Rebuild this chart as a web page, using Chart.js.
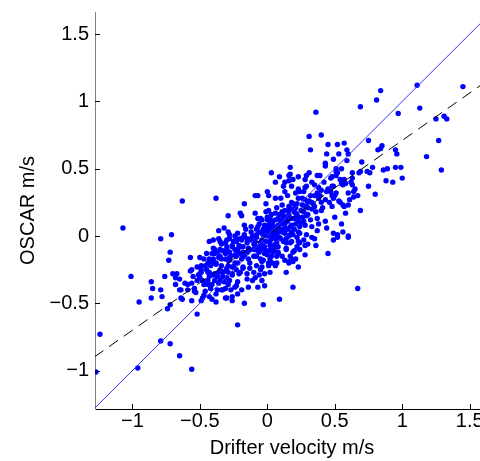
<!DOCTYPE html>
<html>
<head>
<meta charset="utf-8">
<script src="https://cdn.jsdelivr.net/npm/chart.js@4/dist/chart.umd.min.js"></script>
<style>
html, body { margin: 0; padding: 0; background: #fff; overflow: hidden; width: 480px; height: 461px; }
#wrap { width: 500px; height: 461px; }
</style>
</head>
<body>
<div id="wrap"><canvas id="grafico" width="500" height="461"></canvas></div>
<script>
// drifter velocity (x) vs OSCAR velocity (y), m/s
const farPoints = [
  [-1.27,-1.01],[-1.24,-0.73],[-1.07,0.06],[-0.96,-0.98],[-0.79,-0.78],[-0.72,-0.80],[-0.65,-0.89],[-0.56,-0.99],[-1.01,-0.30],[-0.95,-0.49],
  [-0.86,-0.34],[-0.85,-0.39],[-0.86,-0.46],[-0.79,-0.40],[-0.78,-0.45],[-0.76,-0.30],[-0.79,-0.02],[-0.71,0.01],[-0.72,-0.12],[-0.73,-0.18],
  [-0.74,-0.54],[-0.72,-0.51],[-0.52,-0.58],[-0.57,-0.16],[-0.63,0.26],[-0.38,0.28],[-0.22,-0.66],[0.67,-0.39],[0.09,-0.47],[0.19,-0.38],
  [0.14,-0.27],[-0.03,-0.51],[-0.17,-0.50]
];
const lowerCluster = [
  [-0.70,-0.28],[-0.67,-0.28],[-0.68,-0.31],[-0.65,-0.32],[-0.68,-0.36],[-0.65,-0.40],[-0.63,-0.47],
  [-0.59,-0.40],[-0.56,-0.48],[-0.56,-0.35],[-0.57,-0.26],[-0.52,-0.33],[-0.54,-0.41],[-0.51,-0.29],[-0.49,-0.27],[-0.46,-0.41],[-0.47,-0.44],
  [-0.48,-0.46],[-0.44,-0.36],[-0.41,-0.36],[-0.39,-0.33],[-0.43,-0.30],[-0.40,-0.29],[-0.41,-0.47],[-0.38,-0.49],[-0.37,-0.40],[-0.38,-0.43],
  [-0.34,-0.40],[-0.30,-0.46],[-0.31,-0.39],[-0.26,-0.45],[-0.29,-0.36],[-0.28,-0.33],[-0.30,-0.31],[-0.33,-0.27],[-0.29,-0.27],[-0.26,-0.29],
  [-0.44,-0.27],[-0.61,-0.35],[-0.53,-0.42],[-0.43,-0.45],[-0.24,-0.38],[-0.46,-0.35],[-0.37,-0.30],[-0.35,-0.33],[-0.50,-0.28],[-0.46,-0.22],
  [-0.43,-0.27],[-0.50,-0.16],[-0.45,-0.13],[-0.47,-0.17],[-0.43,-0.04],[-0.40,-0.03],[-0.36,0.04],[-0.32,0.06],[-0.36,-0.02],[-0.34,-0.06],
  [-0.30,-0.08],[-0.26,-0.08],[-0.23,-0.02],[-0.28,0.01],[-0.25,-0.04],[-0.39,-0.13],[-0.36,-0.16],[-0.31,-0.13],[-0.28,-0.18],[-0.24,-0.14],
  [-0.38,-0.20],[-0.34,-0.22],[-0.30,-0.24],[-0.26,-0.23],[-0.23,-0.25],[-0.40,-0.20],[-0.43,-0.20],[-0.29,0.15],[-0.20,0.17],[-0.19,0.15],
  [-0.17,0.24],[-0.20,-0.02],[-0.30,-0.03],[-0.26,-0.07],[-0.24,-0.10],[-0.39,-0.10],[-0.35,-0.10],[-0.28,-0.12],[-0.22,-0.12],[-0.18,-0.08],
  [-0.43,-0.17],[-0.34,-0.17],[-0.29,-0.18],[-0.19,-0.14],[-0.42,-0.22],[-0.38,-0.21],[-0.35,-0.25],[-0.25,-0.23],[-0.22,-0.20],[-0.18,-0.24],
  [-0.49,-0.25],[-0.52,-0.23],[-0.56,-0.25],[-0.39,-0.28],[-0.33,-0.30],[-0.21,-0.28],
  [-0.55,-0.30],[-0.48,-0.33],[-0.42,-0.39],[-0.36,-0.35],[-0.32,-0.34],[-0.27,-0.40],[-0.45,-0.25],[-0.41,-0.13],[-0.33,-0.11],[-0.27,-0.15],
  [-0.21,-0.07],[-0.17,-0.15],[-0.13,-0.24],[-0.11,-0.33],[-0.06,-0.29]
];
const coreCluster = [
  [-0.01,0.24],[-0.09,0.17],[-0.07,0.13],[-0.04,0.12],
  [0.00,0.14],[0.03,0.16],[0.02,0.11],[-0.29,0.03],[-0.22,0.02],[-0.17,0.01],[-0.24,0.00],[-0.35,-0.04],[-0.31,-0.05],[-0.28,-0.02],
  [-0.23,-0.04],[-0.19,-0.03],[-0.15,-0.02],[-0.12,-0.02],[-0.08,0.01],[-0.04,0.02],[0.01,0.03],[0.04,-0.01],[-0.40,-0.09],[-0.37,-0.12],
  [-0.30,-0.10],[-0.22,-0.10],[-0.18,-0.12],[-0.14,-0.09],[-0.09,-0.08],[-0.05,-0.10],[-0.02,-0.08],[0.02,-0.07],[0.05,-0.10],[-0.40,-0.17],
  [-0.35,-0.15],[-0.31,-0.17],[-0.28,-0.16],[-0.23,-0.15],[-0.19,-0.17],[-0.14,-0.17],[-0.09,-0.15],[-0.05,-0.17],[0.00,-0.14],[0.03,-0.15],
  [-0.49,-0.22],[-0.44,-0.20],[-0.29,-0.22],[-0.24,-0.20],[-0.18,-0.23],[-0.13,-0.20],[-0.08,-0.22],[-0.04,-0.19],[0.01,-0.20],[-0.36,-0.27],
  [-0.31,-0.26],[-0.26,-0.28],[-0.20,-0.27],[-0.15,-0.28],[-0.10,-0.27],[-0.05,-0.25],[-0.02,-0.28],[0.02,-0.27],[-0.50,-0.31],[-0.44,-0.33],
  [-0.22,-0.34],[-0.15,-0.32],[-0.09,-0.31],[-0.04,-0.33],[-0.59,-0.36],[-0.54,-0.39],[-0.47,-0.36],[-0.33,-0.40],[-0.23,-0.37],[-0.19,-0.40],
  [-0.14,-0.38],[-0.07,-0.38],[-0.02,-0.37],[-0.64,-0.40],[-0.22,-0.43],[-0.64,-0.46],[-0.49,-0.48],[-0.31,-0.46],[-0.26,-0.48],
  [0.00,0.00],[0.05,0.02],[-0.03,0.05],[0.10,0.05],[0.06,-0.02],[-0.05,-0.05],[0.12,0.10],[0.15,0.05],[0.08,0.08],[-0.10,-0.06],
  [-0.12,0.03],[0.10,-0.02],[0.20,0.13],[0.25,0.10],[0.18,0.20],[0.22,0.16],[0.30,0.25],[0.33,0.20],[0.27,0.18],[0.35,0.30],
  [0.40,0.25],[0.45,0.35],[0.42,0.40],[0.38,0.36],[0.46,0.25],[-0.15,-0.12],[-0.20,-0.08],[-0.10,-0.15],[-0.06,-0.12],[0.04,-0.12],
  [0.11,-0.15],[0.14,0.14],[0.06,0.12],[-0.02,0.08],[0.16,0.00],[0.20,0.05],[0.24,0.02],[0.27,-0.03],[-0.16,0.05],[-0.13,-0.03]
];
const coreFill = [
  [-0.15,-0.05],[-0.13,-0.10],[-0.11,0.00],[-0.09,-0.04],[-0.07,-0.11],[-0.06,0.03],[-0.04,-0.07],[-0.03,0.01],[-0.01,-0.04],[0.00,0.06],
  [0.01,-0.11],[0.02,0.02],[0.03,-0.02],[0.04,0.08],[0.05,0.04],[0.06,-0.06],[0.07,0.01],[0.08,0.13],[0.09,-0.01],[0.10,0.09],
  [0.11,0.03],[0.12,0.15],[0.13,0.06],[0.14,-0.02],[0.15,0.11],[0.16,0.19],[0.17,0.07],[0.18,0.13],[0.19,0.01],[0.20,0.18],
  [0.21,0.09],[0.22,0.24],[0.23,0.14],[0.24,0.07],[0.25,0.19],[0.26,0.28],[0.27,0.11],[0.28,0.22],[0.29,0.15],[0.31,0.26],
  [0.32,0.12],[0.34,0.24],[0.36,0.18],[0.39,0.30],[0.41,0.21],[-0.18,-0.01],[-0.20,-0.13],[-0.17,0.08],[-0.12,0.07],[-0.08,0.05],
  [-0.10,-0.10],[0.03,0.10],[0.09,0.16],[0.01,0.08],[-0.02,-0.13],[0.06,0.06],[0.11,0.12],[0.05,-0.07],[0.13,0.19],[0.19,0.24],
  [0.02,0.14],[-0.06,0.09],[0.07,0.21],[0.10,0.28],[0.15,0.30],[-0.01,0.18],[0.24,0.33],[0.28,0.36],[0.33,0.40],[0.37,0.45]
];
const upperCluster = [
  [0.43,0.54],[0.43,0.52],[0.03,0.47],[0.09,0.44],[0.16,0.45],[0.23,0.44],[0.29,0.45],[0.31,0.47],[0.39,0.45],[0.51,0.50],[0.52,0.47],
  [0.63,0.47],[0.06,0.40],[0.13,0.40],[0.16,0.41],[0.19,0.42],[0.28,0.42],[0.47,0.43],[0.54,0.42],[0.58,0.39],[0.63,0.43],
  [0.12,0.37],[0.23,0.35],[0.29,0.37],[0.35,0.38],[0.40,0.34],[0.48,0.37],[0.56,0.38],[0.00,0.33],[0.01,0.30],[0.13,0.33],
  [0.21,0.32],[0.27,0.33],[0.32,0.30],[0.37,0.32],[0.44,0.33],[0.51,0.32],[0.60,0.32],[0.64,0.33],[-0.07,0.30],[0.06,0.28],
  [0.18,0.25],[0.23,0.28],[0.28,0.27],[0.33,0.25],[0.38,0.28],[0.43,0.27],[0.49,0.28],[0.54,0.25],[0.61,0.27],[0.11,0.23],
  [0.16,0.22],[0.21,0.21],[0.26,0.23],[0.30,0.21],[0.35,0.22],[0.40,0.19],[0.48,0.22],[0.56,0.23],[0.58,0.17],[0.01,0.19],
  [0.06,0.17],[0.11,0.18],[0.16,0.16],[0.21,0.17],[0.26,0.14],[0.30,0.16],[0.37,0.13],[0.43,0.11],[0.50,0.14],[0.55,0.09],
  [-0.05,0.13],[0.00,0.12],[0.04,0.11],[0.09,0.12],[0.13,0.09],[0.18,0.08],[0.23,0.11],[0.28,0.08],[0.33,0.07],[0.38,0.09],
  [0.44,0.06],[0.49,0.02],[0.56,0.03],[0.60,-0.01],[-0.07,0.07],[-0.02,0.04],[0.03,0.06],[0.08,0.03],[0.13,0.02],[0.18,0.03],
  [0.22,-0.01],[0.29,0.01],[0.35,-0.02],[0.49,-0.03],[-0.08,-0.01],[-0.04,-0.03],[0.02,-0.04],[0.07,-0.05],[0.12,-0.04],[0.17,-0.05],
  [0.23,-0.04],[0.28,-0.07],[0.22,-0.08],[-0.07,-0.08],[-0.02,-0.10],[0.03,-0.09],[0.08,-0.13],[0.14,-0.10],[0.19,-0.12],[0.28,-0.14],
  [0.45,-0.13],[-0.08,-0.15],[-0.03,-0.18],[0.02,-0.17],[0.07,-0.20],[0.13,-0.18],[0.16,-0.19],[0.18,-0.17],[0.23,-0.23],[-0.04,-0.23],
  [0.01,-0.22],[0.52,0.01],[0.52,-0.01],[0.60,0.00],[0.33,-0.01],[0.30,-0.06],[0.36,-0.07],[0.23,0.03],[0.37,0.04],[0.17,-0.15],
  [0.21,-0.17],[0.19,-0.19],[0.16,-0.20],[0.24,-0.10],[0.20,-0.11],[0.14,-0.05],[0.14,-0.09],[0.18,-0.04],[0.24,-0.05],[0.17,0.01],
  [0.08,-0.08],[0.08,-0.12],[0.07,-0.15],[0.04,-0.20],[0.06,-0.22]
];
const topRight = [
  [1.45,1.11],[1.11,1.12],[0.84,1.08],[0.81,1.01],[0.69,0.96],
  [1.13,0.95],[0.97,0.91],[1.25,0.87],[1.31,0.89],[1.33,0.87],[1.27,0.71],[1.18,0.59],[1.29,0.49],[0.75,0.71],[0.82,0.64],
  [0.84,0.65],[0.85,0.67],[0.95,0.64],[0.96,0.61],[0.52,0.68],[0.57,0.69],[0.53,0.61],[0.59,0.64],[0.70,0.55],[0.78,0.51],
  [0.76,0.47],[0.74,0.48],[0.69,0.48],[0.86,0.49],[0.89,0.50],[0.95,0.51],[0.99,0.51],[0.88,0.41],[0.93,0.40],[1.00,0.43],
  [0.80,0.31],[0.75,0.37],[0.51,0.48],[0.51,0.45],[0.48,0.44],[0.57,0.42],[0.55,0.39],[0.62,0.40],[0.63,0.38],[0.65,0.35],
  [0.67,0.30],[0.64,0.29],[0.49,0.37],[0.47,0.33],[0.48,0.30],[0.50,0.30],[0.57,0.22],[0.60,0.23],[0.69,0.19],[0.53,0.26],
  [0.68,0.47],[0.36,0.92],[0.31,0.74],[0.40,0.75],[0.45,0.68],[0.32,0.64],[0.44,0.61],[0.17,0.51],[0.17,0.46],[0.18,0.37],
  [-0.09,0.30],[0.49,0.57],[0.55,0.50],[0.59,0.56],[0.60,0.61]
];

const xTicks = [-1, -0.5, 0, 0.5, 1, 1.5];
const yTicks = [-1, -0.5, 0, 0.5, 1, 1.5];
const xRange = [-1.277, 1.643];
const yRange = [-1.285, 1.664];
const lineEnds = [-1.5, 1.8];      // x span of the two reference lines
const fitSlope = 0.705, fitIntercept = 0.005;

Chart.defaults.font.family = "'Liberation Sans', Arial, Helvetica, sans-serif";
Chart.defaults.color = '#000';

function tickText(v) {
    return v < 0 ? '\u2212' + String(-v) : String(v);
}

const punti = [].concat(farPoints, lowerCluster, coreCluster, coreFill, upperCluster, topRight)
    .map(p => ({ x: p[0], y: p[1] }));
const unoAUno = lineEnds.map(v => ({ x: v, y: v }));
const retta = lineEnds.map(v => ({ x: v, y: fitIntercept + fitSlope * v }));

// MATLAB style ticks, pointing into the axes
const innerTicks = {
    id: 'innerTicks',
    afterDraw(chart) {
        const { ctx, chartArea: a, scales } = chart;
        ctx.save();
        ctx.strokeStyle = '#000';
        ctx.lineWidth = 1;
        ctx.beginPath();
        xTicks.forEach(v => {
            let px = Math.round(scales.x.getPixelForValue(v)) + 0.5;
            ctx.moveTo(px, a.bottom); ctx.lineTo(px, a.bottom - 5);
        });
        yTicks.forEach(v => {
            let py = Math.round(scales.y.getPixelForValue(v)) + 0.5;
            ctx.moveTo(a.left, py); ctx.lineTo(a.left + 5, py);
        });
        ctx.stroke();
        ctx.restore();
    }
};

new Chart(document.getElementById('grafico').getContext('2d'), {
    type: 'scatter',
    data: {
        datasets: [
            { data: retta, showLine: true, borderColor: '#000', borderWidth: 1, borderDash: [11, 7], pointRadius: 0, order: 0 },
            { data: unoAUno, showLine: true, borderColor: '#3333ff', borderWidth: 1, pointRadius: 0, order: 1 },
            { data: punti, backgroundColor: '#0000ff', borderColor: '#0000ff', borderWidth: 0, pointRadius: 2.7, pointBorderWidth: 0, order: 2 }
        ]
    },
    options: {
        responsive: false,
        animation: false,
        layout: { padding: { top: 12, right: 11, bottom: 0, left: 0 } },
        plugins: { legend: { display: false }, tooltip: { enabled: false } },
        scales: {
            x: {
                type: 'linear', min: xRange[0], max: xRange[1],
                afterBuildTicks: s => { s.ticks = xTicks.map(v => ({ value: v })); },
                afterFit: s => { s.height = 52; s.paddingLeft = 0; s.paddingRight = 0; },
                ticks: { callback: v => tickText(v), font: { size: 20 }, color: '#000', padding: 0, maxRotation: 0, autoSkip: false },
                grid: { display: false, drawTicks: false },
                border: { display: true, color: '#000', width: 1 },
                title: { display: true, text: 'Drifter velocity m/s', font: { size: 20 }, color: '#000', padding: { top: 0, bottom: 1 } }
            },
            y: {
                type: 'linear', min: yRange[0], max: yRange[1],
                afterBuildTicks: s => { s.ticks = yTicks.map(v => ({ value: v })); },
                afterFit: s => { s.width = 95; s.paddingTop = 0; s.paddingBottom = 0; },
                ticks: { callback: v => tickText(v), font: { size: 20 }, color: '#000', padding: 6, autoSkip: false },
                grid: { display: false, drawTicks: false },
                border: { display: true, color: '#808080', width: 1 },
                title: { display: true, text: 'OSCAR m/s', font: { size: 20 }, color: '#000', padding: { top: 16, bottom: 0 } }
            }
        }
    },
    plugins: [innerTicks]
});
</script>
</body>
</html>
